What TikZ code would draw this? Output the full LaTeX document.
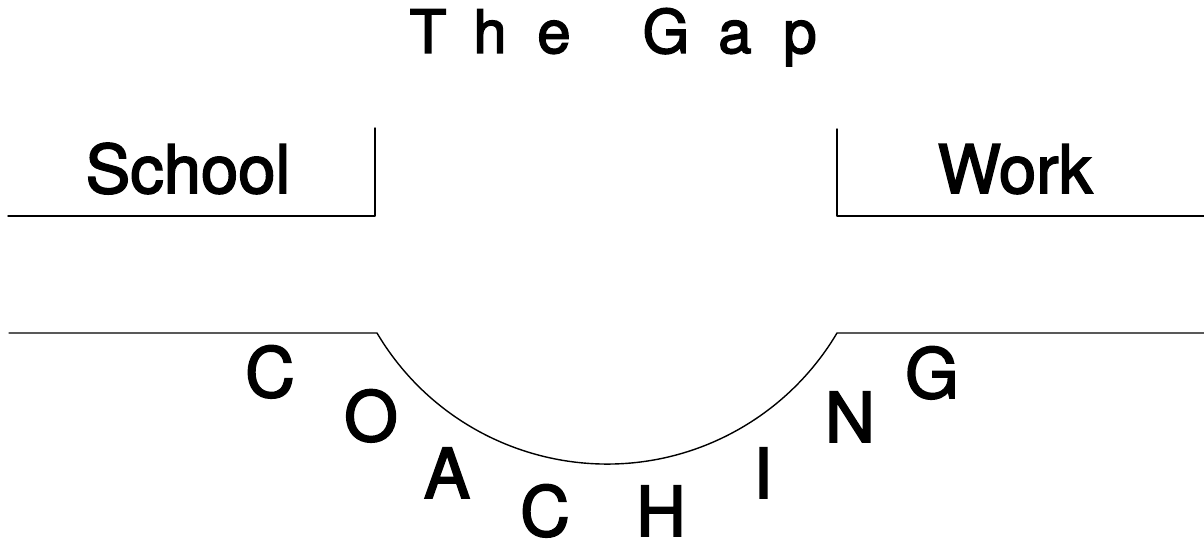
\documentclass[tikz,border=0pt]{standalone}
\usepackage{fontspec}
\setmainfont[FakeBold=2.5,AutoFakeBold=2.5]{TeX Gyre Heros}
\begin{document}
\begin{tikzpicture}[x=1pt,y=1pt,
  wall/.style={line width=1.4pt,line cap=round,line join=round},
  big/.style={inner sep=0pt,anchor=base,font=\fontsize{67}{67}\selectfont\bfseries},
  title/.style={inner sep=0pt,anchor=base,font=\fontsize{60}{60}\selectfont\bfseries},
  ltr/.style={inner sep=0pt,anchor=base,font=\fontsize{69}{69}\selectfont\bfseries}]
\useasboundingbox (0,0) rectangle (1204,545);
% title
\node[title] (t1) at (428,492) {T};
\node[title] (t2) at (490,492) {h};
\node[title] (t3) at (554,492) {e};
\node[title] (t4) at (666,492) {G};
\node[title] (t5) at (735,492) {a};
\node[title] (t6) at (800,492) {p};
% upper ledges
\coordinate (s1) at (375,417);
\coordinate (s2) at (375,329);
\coordinate (s3) at (8,329);
\coordinate (w1) at (837,416);
\coordinate (w2) at (837,329);
\coordinate (w3) at (1204,329);
\draw[wall] (s3) -- (s2) -- (s1);
\draw[wall] (w1) -- (w2) -- (w3);
\node[big] (school) at (188,352) {School};
\node[big] (work) at (1015,352) {Work};
% lower ground with dip
\coordinate (l0) at (9,212);
\coordinate (l1) at (377,212);
\coordinate (r1) at (837,212);
\coordinate (r0) at (1204,212);
\draw[wall] (l0) -- (l1) arc[start angle=210.66,end angle=329.34,radius=267.4pt] -- (r0);
% COACHING
\node[ltr] (c1) at (270,148) {C};
\node[ltr] (c2) at (371,104) {O};
\node[ltr] (c3) at (447,47) {A};
\node[ltr] (c4) at (545,9) {C};
\node[ltr] (c5) at (661,9) {H};
\node[ltr] (c6) at (763,47) {I};
\node[ltr] (c7) at (850,103) {N};
\node[ltr] (c8) at (932,147) {G};
\end{tikzpicture}
\end{document}
